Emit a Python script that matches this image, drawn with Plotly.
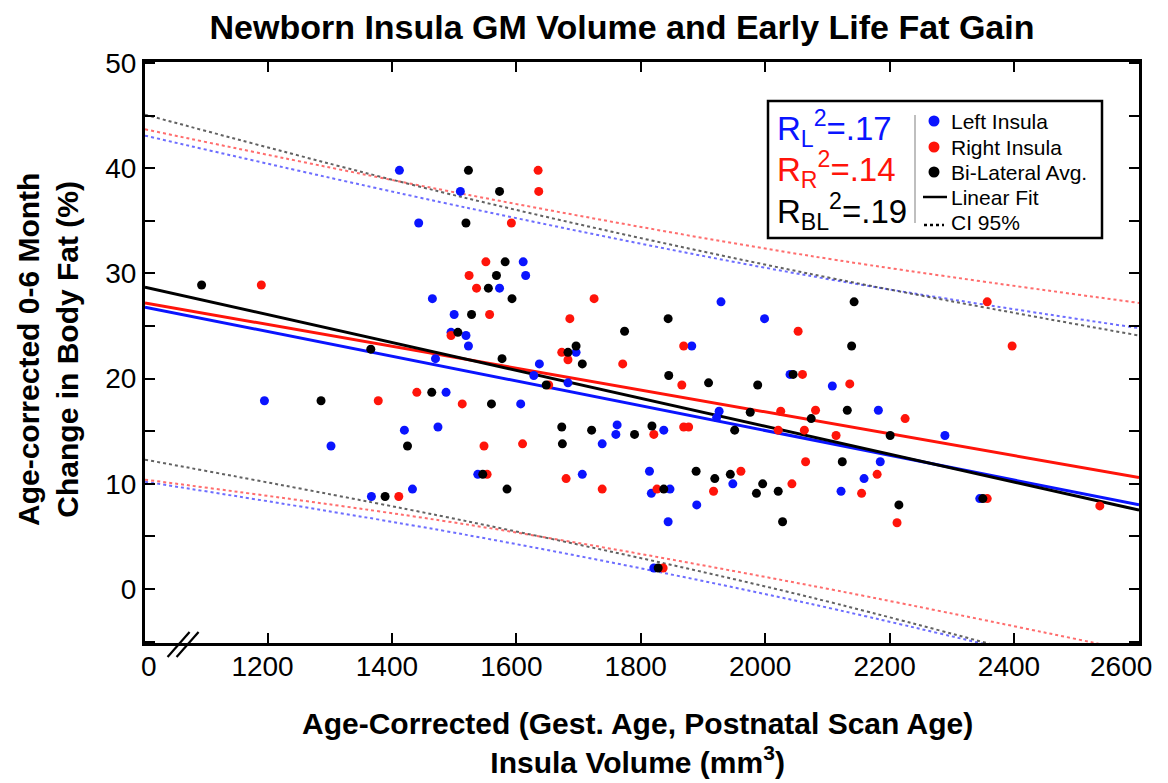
import plotly.graph_objects as go

# ---------------- data ----------------
left_x = [1195, 1302, 1367, 1412, 1420, 1433, 1443, 1465, 1470, 1474, 1487, 1495, 1500, 1510,
          1519, 1523, 1538, 1573, 1611, 1615, 1607, 1628, 1637, 1683, 1696, 1706, 1738, 1760,
          1762, 1814, 1817, 1821, 1837, 1844, 1847, 1882, 1890, 1922, 1926, 1929, 1948, 1999,
          2040, 2108, 2122, 2159, 2182, 2185, 2289, 2345]
left_y = [17.9, 13.6, 8.8, 39.8, 15.1, 9.5, 34.8, 27.6, 21.9, 15.4, 18.7, 24.4, 26.1, 37.8,
          24.1, 23.1, 10.9, 28.6, 31.1, 29.8, 17.6, 20.3, 21.4, 19.6, 22.5, 10.9, 13.8, 14.7,
          15.6, 11.2, 9.1, 2.0, 15.1, 6.4, 9.5, 23.1, 8.0, 16.3, 16.9, 27.3, 10.0, 25.7,
          20.4, 19.3, 9.3, 10.5, 17.0, 12.1, 14.6, 8.6]

right_x = [1190, 1378, 1411, 1440, 1495, 1513, 1524, 1536, 1548, 1551, 1553, 1557, 1592, 1610,
           1635, 1636, 1652, 1673, 1680, 1683, 1686, 1725, 1738, 1771, 1821, 1826, 1836, 1866,
           1869, 1869, 1877, 1917, 1961, 2021, 2025, 2043, 2053, 2060, 2065, 2063, 2081, 2114,
           2136, 2155, 2180, 2212, 2225, 2357, 2357, 2397, 2538]
right_y = [28.9, 17.9, 8.8, 18.7, 24.1, 17.6, 29.8, 28.6, 13.6, 31.1, 10.9, 26.1, 34.8, 13.8,
           39.8, 37.8, 19.4, 22.5, 10.5, 21.8, 25.7, 27.6, 9.5, 21.4, 14.7, 9.5, 2.0, 19.4,
           23.1, 15.4, 15.4, 9.3, 11.2, 15.1, 16.9, 10.0, 24.5, 20.4, 12.1, 15.1, 17.0, 14.6,
           19.5, 9.1, 10.9, 6.3, 16.2, 27.3, 8.6, 23.1, 7.9]

bilat_x = [1094, 1286, 1366, 1389, 1425, 1464, 1506, 1519, 1523, 1528, 1546, 1555, 1560, 1568,
           1573, 1577, 1582, 1585, 1593, 1648, 1673, 1674, 1683, 1696, 1706, 1721, 1774, 1790,
           1818, 1828, 1837, 1844, 1845, 1889, 1909, 1919, 1944, 1951, 1976, 1986, 1988, 1996,
           2021, 2028, 2045, 2074, 2124, 2132, 2139, 2143, 2201, 2215, 2350]
bilat_y = [28.9, 17.9, 22.8, 8.8, 13.6, 18.7, 24.4, 34.8, 39.8, 26.1, 10.9, 28.6, 17.6, 29.8,
           37.8, 21.9, 31.1, 9.5, 27.6, 19.4, 15.4, 13.8, 22.5, 23.1, 21.4, 15.1, 24.5, 14.7,
           15.5, 2.0, 9.5, 25.7, 20.3, 11.2, 19.6, 10.5, 10.9, 15.1, 16.8, 9.1, 19.4, 10.0,
           9.3, 6.4, 20.4, 16.2, 12.1, 17.0, 23.1, 27.3, 14.6, 8.0, 8.6]

# fitted lines (values at the plot's left / right edges)
fit_x = [1003, 2601]
left_fit = [26.8, 8.0]
right_fit = [27.2, 10.6]
bilat_fit = [28.7, 7.5]

# 95% confidence bands
ci_x = [1003, 1524, 2069, 2601]
left_ci_up = [43.1, 36.2, 29.8, 24.8]
left_ci_lo = [10.2, 5.1, -1.36, -8.8]
right_ci_up = [43.7, 37.45, 31.7, 27.2]
right_ci_lo = [10.4, 6.1, 0.38, -6.0]
bilat_ci_up = [45.1, 37.1, 30.0, 24.1]
bilat_ci_lo = [12.3, 6.4, -0.73, -9.1]

r2_labels = ["R<sub>L</sub><sup>2</sup>=.17", "R<sub>R</sub><sup>2</sup>=.14",
             "R<sub>BL</sub><sup>2</sup>=.19"]
legend_labels = ["Left Insula", "Right Insula", "Bi-Lateral Avg.", "Linear Fit", "CI 95%"]
x_tick_vals = [1200, 1400, 1600, 1800, 2000, 2200, 2400, 2600]
y_tick_vals = [0, 10, 20, 30, 40, 50]

# ---------------- styling ----------------
FONT = "Liberation Sans, Arial, Helvetica, sans-serif"
BLUE = "rgb(10,20,255)"
RED = "rgb(255,20,10)"
BLACK = "rgb(0,0,0)"
CI_COL = {"L": "rgba(60,60,255,0.75)", "R": "rgba(255,60,60,0.75)", "B": "rgba(70,70,70,0.85)"}

fig = go.Figure()

# CI dotted lines
for up, lo, key in [(left_ci_up, left_ci_lo, "L"), (right_ci_up, right_ci_lo, "R"),
                    (bilat_ci_up, bilat_ci_lo, "B")]:
    for arr in (up, lo):
        fig.add_trace(go.Scatter(x=ci_x, y=arr, mode="lines", line_shape="spline",
                                 line=dict(color=CI_COL[key], width=2, dash="dot"),
                                 showlegend=False, hoverinfo="skip"))

# fit lines
for arr, col in [(left_fit, BLUE), (right_fit, RED), (bilat_fit, BLACK)]:
    fig.add_trace(go.Scatter(x=fit_x, y=arr, mode="lines", line=dict(color=col, width=3),
                             showlegend=False, hoverinfo="skip"))

# points
for xs, ys, col, name in [(left_x, left_y, BLUE, legend_labels[0]),
                          (right_x, right_y, RED, legend_labels[1]),
                          (bilat_x, bilat_y, BLACK, legend_labels[2])]:
    fig.add_trace(go.Scatter(x=xs, y=ys, mode="markers", name=name,
                             marker=dict(color=col, size=9, line=dict(width=0)),
                             showlegend=False))

# page-pixel geometry (the page body adds an 8px offset around the figure div)
OFF = 8
W, H = 1168 - OFF, 783 - OFF
PX0, PX1, PY0, PY1 = 145, 1139, 62, 643          # plot area in page pixels
L, T = PX0 - OFF, PY0 - OFF
R, B = W - (PX1 - OFF), H - (PY1 - OFF)
pw, ph = PX1 - PX0, PY1 - PY0


def px(xp):
    return (xp - PX0) / pw


def py(yp):
    return (PY1 - yp) / ph


axis_common = dict(showline=True, linecolor="black", linewidth=3, mirror="ticks",
                   ticks="inside", ticklen=10, tickwidth=1.5, tickcolor="black",
                   showgrid=False, zeroline=False,
                   tickfont=dict(family=FONT, size=28, color="black"))

# last x label sits at the plot edge; it is drawn as an annotation (shifted left, as in
# the reference) so that it stays inside the page
x_tick_text = [str(v) for v in x_tick_vals[:-1]] + [""]
fig.update_xaxes(range=[1003, 2601], tickvals=x_tick_vals, ticktext=x_tick_text,
                 ticklabelstandoff=-4, ticklabelshift=-5, **axis_common)
fig.update_yaxes(range=[-5.13, 50.1], tickvals=y_tick_vals,
                 ticktext=[str(v) for v in y_tick_vals],
                 minor=dict(dtick=5, tick0=0, ticks="inside", ticklen=10, tickwidth=1.5,
                            tickcolor="black"),
                 **axis_common)

shapes = []
annotations = []

# axis break marks
for dx in (0, 9):
    shapes.append(dict(type="line", xref="x", yref="paper", xsizemode="pixel",
                       ysizemode="pixel", xanchor=1065, yanchor=0,
                       x0=-16 + dx, y0=-14, x1=6 + dx, y1=11,
                       line=dict(color="black", width=2.2)))
# "0" label at the broken axis start, and the end label
annotations.append(dict(x=1009, y=0, xref="x", yref="paper", text="0", showarrow=False,
                        xanchor="center", yanchor="middle", yshift=-(666 - PY1),
                        font=dict(family=FONT, size=28, color="black")))
annotations.append(dict(x=x_tick_vals[-1], y=0, xref="x", yref="paper",
                        text=str(x_tick_vals[-1]), showarrow=False,
                        xanchor="center", yanchor="middle", yshift=-(666 - PY1), xshift=-17,
                        font=dict(family=FONT, size=28, color="black")))

# legend box
shapes.append(dict(type="rect", xref="paper", yref="paper", x0=px(768), x1=px(1102),
                   y0=py(238), y1=py(101), line=dict(color="black", width=2.5),
                   fillcolor="white", layer="above"))
shapes.append(dict(type="line", xref="paper", yref="paper", x0=px(915), x1=px(915),
                   y0=py(223), y1=py(115), line=dict(color="rgb(170,170,170)", width=1.5),
                   layer="above"))

r2_colors = [BLUE, RED, BLACK]
r2_y = [128, 170, 212]
for lab, col, yy in zip(r2_labels, r2_colors, r2_y):
    annotations.append(dict(x=px(775), y=py(yy), xref="paper", yref="paper", text=lab,
                            showarrow=False, xanchor="left", yanchor="middle",
                            font=dict(family=FONT, size=33, color=col)))

leg_y = [121, 147, 172, 197, 222]
for lab, yy in zip(legend_labels, leg_y):
    annotations.append(dict(x=px(949), y=py(yy), xref="paper", yref="paper", text=lab,
                            showarrow=False, xanchor="left", yanchor="middle",
                            font=dict(family=FONT, size=21, color="black")))
for col, yy in zip([BLUE, RED, BLACK], leg_y[:3]):
    shapes.append(dict(type="circle", xref="paper", yref="paper", xsizemode="pixel",
                       ysizemode="pixel", xanchor=px(934), yanchor=py(yy),
                       x0=-5.5, x1=5.5, y0=-5.5, y1=5.5, fillcolor=col,
                       line=dict(width=0), layer="above"))
shapes.append(dict(type="line", xref="paper", yref="paper", x0=px(923), x1=px(947),
                   y0=py(leg_y[3]), y1=py(leg_y[3]), line=dict(color="black", width=2.5),
                   layer="above"))
shapes.append(dict(type="line", xref="paper", yref="paper", x0=px(924), x1=px(944),
                   y0=py(leg_y[4] + 3), y1=py(leg_y[4] + 3),
                   line=dict(color="black", width=2.5, dash="dot"), layer="above"))

# axis titles
annotations.append(dict(x=px(637), y=py(743), xref="paper", yref="paper",
                        text="<b>Age-Corrected (Gest. Age, Postnatal Scan Age)<br>"
                             "Insula Volume (mm<sup>3</sup>)</b>",
                        showarrow=False, xanchor="center", yanchor="middle",
                        font=dict(family=FONT, size=30, color="black")))
annotations.append(dict(x=px(48), y=py(350), xref="paper", yref="paper",
                        text="<b>Age-corrected 0-6 Month<br>Change in Body Fat (%)</b>",
                        showarrow=False, textangle=-90, xanchor="center", yanchor="middle",
                        font=dict(family=FONT, size=30, color="black")))

fig.update_layout(
    width=W, height=H,
    margin=dict(l=L, r=R, t=T, b=B),
    paper_bgcolor="white", plot_bgcolor="white",
    title=dict(text="<b>Newborn Insula GM Volume and Early Life Fat Gain</b>",
               x=(622 - OFF) / W, xanchor="center", y=1 - (27 - OFF) / H, yanchor="middle",
               font=dict(family=FONT, size=34, color="black")),
    shapes=shapes, annotations=annotations, showlegend=False,
)

fig.write_html("out.html")
